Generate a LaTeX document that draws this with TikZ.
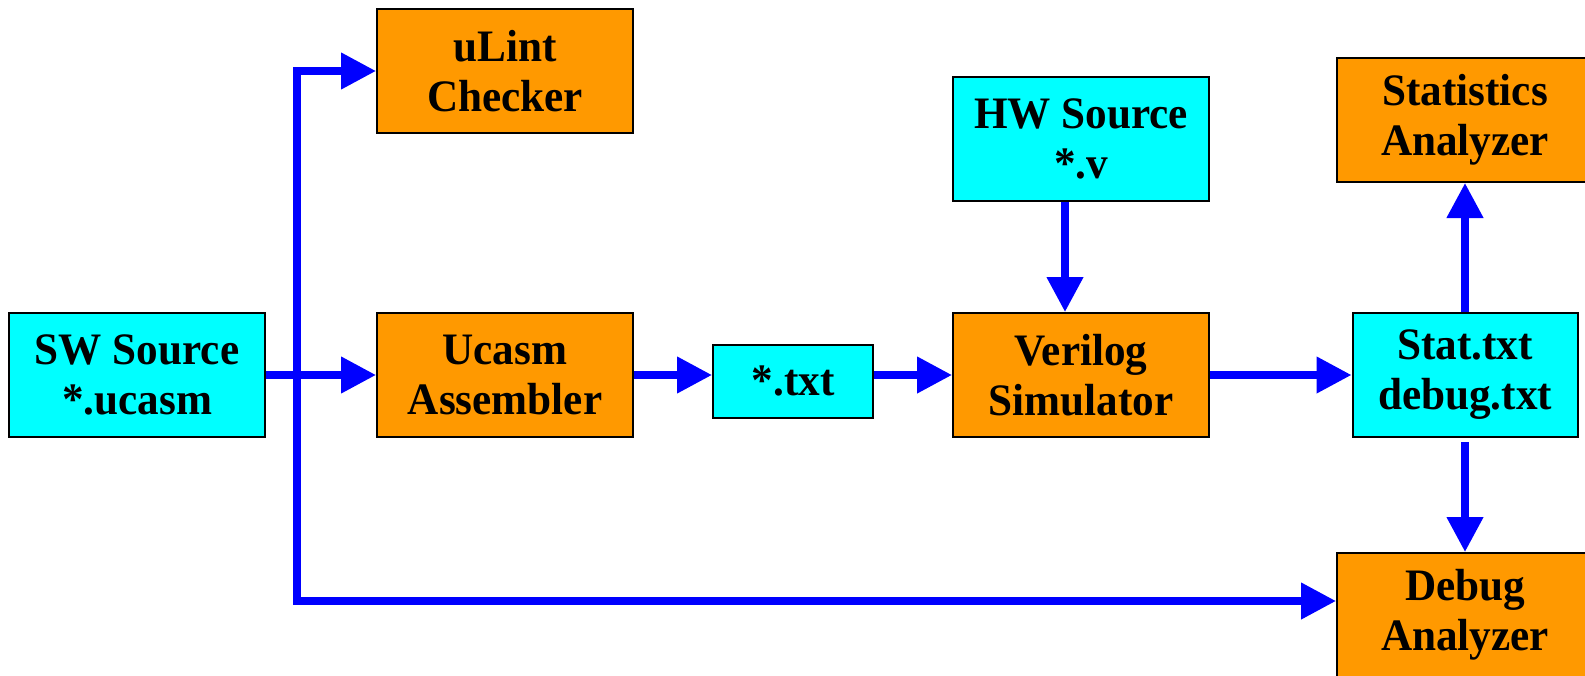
\documentclass[tikz,border=0pt]{standalone}
\usepackage{fontspec}
\setmainfont{Liberation Serif}[FakeStretch=0.96]
\usetikzlibrary{arrows.meta}
\definecolor{srccyan}{HTML}{00FFFF}
\definecolor{toolorange}{HTML}{FF9900}
\definecolor{flowblue}{HTML}{0000FF}
\begin{document}
\begin{tikzpicture}[x=0.5pt,y=-0.5pt,
        every node/.style={draw=black,line width=1pt,align=center,inner sep=0pt,
            font=\fontsize{22.5}{25}\selectfont\bfseries},
        tool/.style={fill=toolorange,minimum width=128pt,minimum height=62pt},
        src/.style={fill=srccyan,minimum width=128pt,minimum height=62pt},
        flow/.style={draw=flowblue,line width=3.75pt,-{Triangle[length=17.5pt,width=17.5pt]}}]
    \useasboundingbox (0,0) rectangle (1585,675);
    \clip (0,0) rectangle (1585,675);
    % sources and tools
    \node[src]  (sw)    at (137,375)  {SW Source\\*.ucasm};
    \node[tool] (ulint) at (505,71)   {uLint\\Checker};
    \node[tool] (ucasm) at (505,375)  {Ucasm\\Assembler};
    \node[src,minimum width=80pt,minimum height=36.5pt] (txt) at (793,381) {*.txt};
    \node[src]  (hw)    at (1081,139) {HW Source\\*.v};
    \node[tool] (ver)   at (1081,375) {Verilog\\Simulator};
    \node[src,minimum width=112.5pt] (stt) at (1465,375) {Stat.txt\\debug.txt};
    \node[tool] (stats) at (1465,120) {Statistics\\Analyzer};
    \node[tool] (dbg)   at (1465,615) {Debug\\Analyzer};
    \coordinate (split) at (297,375);
    % flow
    \draw[flow] (sw) -- (ucasm);
    \draw[flow] (split) |- (ulint.west);
    \draw[flow] (split) |- ([yshift=7pt]dbg.west);
    \draw[flow] (ucasm) -- (ucasm -| txt.west);
    \draw[flow] (ver -| txt.east) -- (ver);
    \draw[flow] ([xshift=-8pt]hw.south) -- ([xshift=-8pt]ver.north);
    \draw[flow] (ver) -- (stt);
    \draw[flow] (stt) -- (stats);
    \draw[flow,shorten <=2pt] (stt) -- (dbg);
\end{tikzpicture}
\end{document}
